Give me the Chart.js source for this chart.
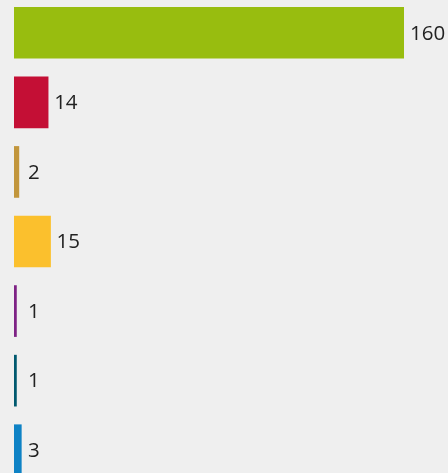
<!DOCTYPE html>
<html>
<head>
<meta charset="utf-8">
<script src="https://cdn.jsdelivr.net/npm/chart.js@4/dist/chart.umd.min.js"></script>
<style>
  html, body { margin: 0; padding: 0; background: #efefef; overflow: hidden; width: 448px; height: 473px; }
  #wrap { position: absolute; left: 0; top: -2px; width: 448px; height: 487px; }
</style>
</head>
<body>
<div id="wrap"><canvas id="c" width="448" height="487"></canvas></div>
<script>
const categories = ["Category 1", "Category 2", "Category 3", "Category 4", "Category 5", "Category 6", "Category 7"];
const values = [160, 14, 2, 15, 1, 1, 3];
const colors = ["#98bd0f", "#c40f35", "#c2963c", "#fbc02d", "#7e2285", "#00596f", "#0e82c5"];

const labelPlugin = {
  id: 'barLabels',
  afterDatasetsDraw(chart) {
    const ctx = chart.ctx;
    const meta = chart.getDatasetMeta(0);
    ctx.save();
    ctx.font = '20.5px "Open Sans"';
    ctx.fillStyle = '#222222';
    ctx.textAlign = 'left';
    ctx.textBaseline = 'middle';
    meta.data.forEach((bar, i) => {
      const x = Math.max(bar.x + 6, 28);
      ctx.fillText(String(values[i]), x, bar.y + 1);
    });
    ctx.restore();
  }
};

new Chart(document.getElementById('c'), {
  type: 'bar',
  data: {
    labels: categories,
    datasets: [{
      data: values,
      backgroundColor: colors,
      borderWidth: 0,
      barThickness: 51
    }]
  },
  options: {
    indexAxis: 'y',
    responsive: false,
    animation: false,
    layout: { padding: { left: 14, right: 44, top: 0, bottom: 0 } },
    plugins: { legend: { display: false }, tooltip: { enabled: false } },
    scales: {
      x: { display: false, min: 0, max: 160 },
      y: { display: false }
    }
  },
  plugins: [labelPlugin]
});
</script>
</body>
</html>
